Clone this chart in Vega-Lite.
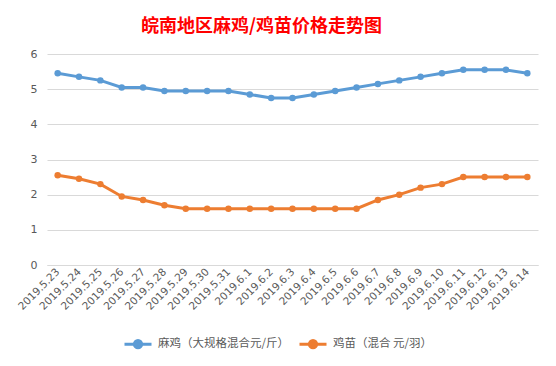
{
  "$schema": "https://vega.github.io/schema/vega-lite/v6.json",
  "width": 491,
  "height": 211,
  "autosize": {"type": "none"},
  "padding": {"left": 47, "top": 54, "right": 18, "bottom": 101},
  "background": "white",
  "title": {
    "text": "皖南地区麻鸡/鸡苗价格走势图",
    "color": "#FF0000",
    "font": "Noto Sans CJK SC",
    "fontSize": 18,
    "fontWeight": "bold",
    "anchor": "middle",
    "dx": -31,
    "offset": 12
  },
  "data": {
    "values": [
      {"date": "2019.5.23", "series": "麻鸡（大规格混合元/斤）", "value": 5.45},
      {"date": "2019.5.24", "series": "麻鸡（大规格混合元/斤）", "value": 5.35},
      {"date": "2019.5.25", "series": "麻鸡（大规格混合元/斤）", "value": 5.25},
      {"date": "2019.5.26", "series": "麻鸡（大规格混合元/斤）", "value": 5.05},
      {"date": "2019.5.27", "series": "麻鸡（大规格混合元/斤）", "value": 5.05},
      {"date": "2019.5.28", "series": "麻鸡（大规格混合元/斤）", "value": 4.95},
      {"date": "2019.5.29", "series": "麻鸡（大规格混合元/斤）", "value": 4.95},
      {"date": "2019.5.30", "series": "麻鸡（大规格混合元/斤）", "value": 4.95},
      {"date": "2019.5.31", "series": "麻鸡（大规格混合元/斤）", "value": 4.95},
      {"date": "2019.6.1", "series": "麻鸡（大规格混合元/斤）", "value": 4.85},
      {"date": "2019.6.2", "series": "麻鸡（大规格混合元/斤）", "value": 4.75},
      {"date": "2019.6.3", "series": "麻鸡（大规格混合元/斤）", "value": 4.75},
      {"date": "2019.6.4", "series": "麻鸡（大规格混合元/斤）", "value": 4.85},
      {"date": "2019.6.5", "series": "麻鸡（大规格混合元/斤）", "value": 4.95},
      {"date": "2019.6.6", "series": "麻鸡（大规格混合元/斤）", "value": 5.05},
      {"date": "2019.6.7", "series": "麻鸡（大规格混合元/斤）", "value": 5.15},
      {"date": "2019.6.8", "series": "麻鸡（大规格混合元/斤）", "value": 5.25},
      {"date": "2019.6.9", "series": "麻鸡（大规格混合元/斤）", "value": 5.35},
      {"date": "2019.6.10", "series": "麻鸡（大规格混合元/斤）", "value": 5.45},
      {"date": "2019.6.11", "series": "麻鸡（大规格混合元/斤）", "value": 5.55},
      {"date": "2019.6.12", "series": "麻鸡（大规格混合元/斤）", "value": 5.55},
      {"date": "2019.6.13", "series": "麻鸡（大规格混合元/斤）", "value": 5.55},
      {"date": "2019.6.14", "series": "麻鸡（大规格混合元/斤）", "value": 5.45},
      {"date": "2019.5.23", "series": "鸡苗（混合 元/羽）", "value": 2.55},
      {"date": "2019.5.24", "series": "鸡苗（混合 元/羽）", "value": 2.45},
      {"date": "2019.5.25", "series": "鸡苗（混合 元/羽）", "value": 2.3},
      {"date": "2019.5.26", "series": "鸡苗（混合 元/羽）", "value": 1.95},
      {"date": "2019.5.27", "series": "鸡苗（混合 元/羽）", "value": 1.85},
      {"date": "2019.5.28", "series": "鸡苗（混合 元/羽）", "value": 1.7},
      {"date": "2019.5.29", "series": "鸡苗（混合 元/羽）", "value": 1.6},
      {"date": "2019.5.30", "series": "鸡苗（混合 元/羽）", "value": 1.6},
      {"date": "2019.5.31", "series": "鸡苗（混合 元/羽）", "value": 1.6},
      {"date": "2019.6.1", "series": "鸡苗（混合 元/羽）", "value": 1.6},
      {"date": "2019.6.2", "series": "鸡苗（混合 元/羽）", "value": 1.6},
      {"date": "2019.6.3", "series": "鸡苗（混合 元/羽）", "value": 1.6},
      {"date": "2019.6.4", "series": "鸡苗（混合 元/羽）", "value": 1.6},
      {"date": "2019.6.5", "series": "鸡苗（混合 元/羽）", "value": 1.6},
      {"date": "2019.6.6", "series": "鸡苗（混合 元/羽）", "value": 1.6},
      {"date": "2019.6.7", "series": "鸡苗（混合 元/羽）", "value": 1.85},
      {"date": "2019.6.8", "series": "鸡苗（混合 元/羽）", "value": 2.0},
      {"date": "2019.6.9", "series": "鸡苗（混合 元/羽）", "value": 2.2},
      {"date": "2019.6.10", "series": "鸡苗（混合 元/羽）", "value": 2.3},
      {"date": "2019.6.11", "series": "鸡苗（混合 元/羽）", "value": 2.5},
      {"date": "2019.6.12", "series": "鸡苗（混合 元/羽）", "value": 2.5},
      {"date": "2019.6.13", "series": "鸡苗（混合 元/羽）", "value": 2.5},
      {"date": "2019.6.14", "series": "鸡苗（混合 元/羽）", "value": 2.5}
    ]
  },
  "mark": {
    "type": "line",
    "strokeWidth": 3,
    "point": {"filled": true, "size": 42, "opacity": 1}
  },
  "encoding": {
    "x": {
      "field": "date",
      "type": "ordinal",
      "sort": null,
      "scale": {"type": "point", "padding": 0.5},
      "axis": {
        "title": null,
        "labelAngle": -45,
        "labelAlign": "right",
        "labelBaseline": "middle",
        "labelFont": "DejaVu Sans",
        "labelFontSize": 10.5,
        "labelColor": "#595959",
        "labelPadding": 5,
        "ticks": false,
        "domainColor": "#D9D9D9",
        "domainWidth": 1,
        "grid": false
      }
    },
    "y": {
      "field": "value",
      "type": "quantitative",
      "scale": {"domain": [0, 6], "nice": false},
      "axis": {
        "title": null,
        "values": [0, 1, 2, 3, 4, 5, 6],
        "labelColor": "#595959",
        "labelFont": "DejaVu Sans",
        "labelFontSize": 11,
        "labelPadding": 10,
        "ticks": false,
        "domain": false,
        "gridColor": "#D9D9D9",
        "gridWidth": 1
      }
    },
    "color": {
      "field": "series",
      "type": "nominal",
      "sort": ["麻鸡（大规格混合元/斤）", "鸡苗（混合 元/羽）"],
      "scale": {
        "domain": ["麻鸡（大规格混合元/斤）", "鸡苗（混合 元/羽）"],
        "range": ["#5B9BD5", "#ED7D31"]
      },
      "legend": {
        "title": null,
        "orient": "none",
        "direction": "horizontal",
        "legendX": 76,
        "legendY": 275,
        "padding": 0,
        "columnPadding": 3,
        "symbolType": "M-1,0L1,0M-0.27,0A0.27,0.27 0 1,1 0.27,0A0.27,0.27 0 1,1 -0.27,0Z",
        "symbolSize": 729,
        "symbolStrokeWidth": 3,
        "labelFont": "Noto Sans CJK SC",
        "labelFontSize": 11.5,
        "labelColor": "#595959",
        "labelOffset": 5,
        "labelLimit": 300,
        "encode": {
          "symbols": {
            "update": {
              "fill": {"scale": "color", "field": "value"},
              "fillOpacity": {"value": 1},
              "opacity": {"value": 1}
            }
          }
        }
      }
    }
  },
  "config": {
    "view": {"stroke": null}
  }
}
